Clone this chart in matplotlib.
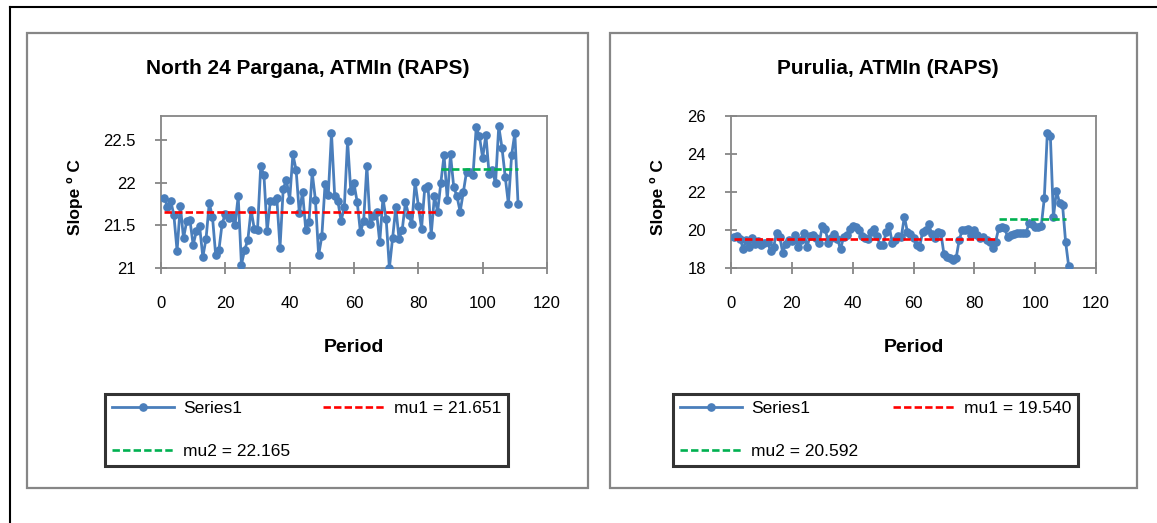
import matplotlib
matplotlib.use('Agg')
import matplotlib.pyplot as plt
from matplotlib.lines import Line2D
from matplotlib.patches import Rectangle

plt.rcParams['font.family'] = ['Liberation Sans', 'DejaVu Sans']

# ATMIn slope series for each district, one value per period
periods = list(range(1, 112))

north24 = [
    21.82, 21.72, 21.79, 21.62, 21.20, 21.73, 21.35, 21.55, 21.56, 21.27,
    21.43, 21.49, 21.13, 21.34, 21.76, 21.60, 21.15, 21.21, 21.52, 21.63,
    21.58, 21.60, 21.50, 21.84, 21.04, 21.21, 21.33, 21.68, 21.46, 21.45,
    22.19, 22.09, 21.43, 21.79, 21.79, 21.82, 21.24, 21.93, 22.03, 21.80,
    22.33, 22.15, 21.64, 21.89, 21.45, 21.54, 22.12, 21.80, 21.15, 21.37,
    21.98, 21.85, 22.58, 21.84, 21.78, 21.55, 21.72, 22.49, 21.90, 21.99,
    21.77, 21.42, 21.55, 22.20, 21.52, 21.61, 21.66, 21.30, 21.82, 21.57,
    21.00, 21.35, 21.71, 21.34, 21.45, 21.77, 21.62, 21.52, 22.01, 21.73,
    21.46, 21.94, 21.96, 21.39, 21.84, 21.66, 22.00, 22.32, 21.80, 22.33,
    21.95, 21.84, 21.66, 21.89, 22.13, 22.13, 22.09, 22.65, 22.54, 22.29,
    22.56, 22.10, 22.15, 21.99, 22.66, 22.41, 22.07, 21.75, 22.32, 22.58,
    21.75,
]

purulia = [
    19.61, 19.68, 19.55, 19.00, 19.45, 19.12, 19.60, 19.25, 19.44, 19.20,
    19.30, 19.35, 18.91, 19.10, 19.86, 19.65, 18.81, 19.25, 19.50, 19.40,
    19.74, 19.12, 19.45, 19.86, 19.12, 19.68, 19.75, 19.60, 19.30, 20.21,
    20.05, 19.30, 19.60, 19.78, 19.55, 18.98, 19.62, 19.74, 20.04, 20.20,
    20.15, 20.00, 19.70, 19.60, 19.55, 19.90, 20.04, 19.68, 19.21, 19.21,
    19.90, 20.21, 19.33, 19.50, 19.70, 19.65, 20.70, 19.90, 19.80, 19.60,
    19.21, 19.10, 19.90, 20.02, 20.30, 19.80, 19.60, 19.90, 19.85, 18.74,
    18.60, 18.51, 18.42, 18.51, 19.45, 20.00, 20.00, 20.04, 19.74, 20.00,
    19.75, 19.56, 19.65, 19.50, 19.39, 19.04, 19.39, 20.09, 20.14, 20.09,
    19.61, 19.74, 19.78, 19.82, 19.86, 19.86, 19.86, 20.35, 20.30, 20.18,
    20.18, 20.20, 21.67, 25.12, 24.95, 20.67, 22.07, 21.44, 21.32, 19.39,
    18.12,
]

# segment means and the periods they cover
n24_mu = [21.651, 22.165]
n24_span = [(1, 86), (87, 111)]
pur_mu = [19.540, 20.592]
pur_span = [(1, 87), (88, 110)]

n24_yticks = [21, 21.5, 22, 22.5]
pur_yticks = [18, 20, 22, 24, 26]
xticks = [0, 20, 40, 60, 80, 100, 120]

BLUE = '#4A7EBB'
RED = '#FF0000'
GREEN = '#00B050'
GREY = '#868686'
DASH = (0, (2.8, 1.2))

W, H = 1157, 523
fig = plt.figure(figsize=(W / 100, H / 100), dpi=100)


def fx(px):
    return px / W


def fy(py):
    return 1 - py / H


# page frame (top and left edges only)
fig.add_artist(Line2D([fx(10), 1], [fy(7), fy(7)], color='black', lw=1.5, transform=fig.transFigure))
fig.add_artist(Line2D([fx(10), fx(10)], [fy(7), 0], color='black', lw=1.5, transform=fig.transFigure))


def panel(box, ax_px, leg_px, title, title_x, y, mu, span, ylim, yticks, ylab_x):
    bx0, by0, bx1, by1 = box
    fig.add_artist(Rectangle((fx(bx0), fy(by1)), fx(bx1 - bx0), (by1 - by0) / H,
                             transform=fig.transFigure, fill=False, edgecolor=GREY, lw=1.6))

    x0, y0, x1, y1 = ax_px
    ax = fig.add_axes([fx(x0), fy(y1), fx(x1 - x0), (y1 - y0) / H])
    ax.plot(periods, y, color=BLUE, lw=2, marker='o', ms=5.2, zorder=3)
    ax.plot(span[0], [mu[0], mu[0]], color=RED, lw=1.9, ls=DASH, zorder=4)
    ax.plot(span[1], [mu[1], mu[1]], color=GREEN, lw=1.9, ls=DASH, zorder=4)

    ax.set_xlim(0, 120)
    ax.set_ylim(*ylim)
    ax.set_xticks(xticks)
    ax.set_yticks(yticks)
    ax.set_yticklabels([f'{t:g}' for t in yticks])
    for s in ax.spines.values():
        s.set_color(GREY)
        s.set_linewidth(1.3)
    ax.tick_params(axis='both', direction='inout', length=8, width=1.3, color=GREY,
                   labelsize=12, labelcolor='black')
    ax.tick_params(axis='x', pad=16)
    ax.tick_params(axis='y', pad=14)

    ax.set_xlabel('Period', fontsize=14, fontweight='bold', labelpad=20)
    fig.text(fx(ylab_x), fy((y0 + y1) / 2 + 5), 'Slope º C', rotation=90, ha='center', va='center',
             fontsize=12.5, fontweight='bold')
    fig.text(fx(title_x), fy(69), title, ha='center', va='center',
             fontsize=15, fontweight='bold')

    handles = [
        Line2D([], [], color=BLUE, lw=2, marker='o', ms=5.2),
        Line2D([], [], color=GREEN, lw=1.9, ls=DASH),
        Line2D([], [], color=RED, lw=1.9, ls=DASH),
    ]
    labels = ['Series1', f'mu2 = {mu[1]:.3f}', f'mu1 = {mu[0]:.3f}']
    lx0, ly0, lx1, ly1 = leg_px
    leg = fig.legend(handles, labels, ncol=2, loc='lower left', mode='expand',
                     bbox_to_anchor=(fx(lx0), fy(ly1), fx(lx1 - lx0), (ly1 - ly0) / H),
                     bbox_transform=fig.transFigure, fancybox=False, edgecolor='black',
                     fontsize=12.5, handlelength=3.6, handletextpad=0.5, labelspacing=1.6,
                     borderaxespad=0, borderpad=0.4, columnspacing=2.0)
    leg.get_frame().set_linewidth(2.2)
    return ax


panel((27, 33, 588, 488), (161, 116, 547, 268), (105, 392, 508, 466),
      'North 24 Pargana, ATMIn (RAPS)', 308, north24, n24_mu, n24_span,
      (21, 22.78), n24_yticks, 75)
panel((610, 33, 1137, 488), (731, 116, 1096, 268), (673, 392, 1078, 466),
      'Purulia, ATMIn (RAPS)', 888, purulia, pur_mu, pur_span,
      (18, 26), pur_yticks, 658)

fig.savefig('out.png', dpi=100)
